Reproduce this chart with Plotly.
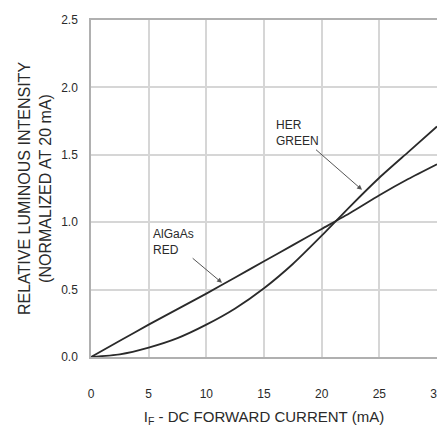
import plotly.graph_objects as go

current_ma = [0, 2.5, 5, 7.5, 10, 12.5, 15, 17.5, 20, 22.5, 25, 27.5, 30]
algaas_red = [0, 0.12, 0.24, 0.355, 0.47, 0.59, 0.71, 0.83, 0.95, 1.07, 1.20, 1.32, 1.43]
her_green = [0, 0.02, 0.07, 0.14, 0.24, 0.36, 0.51, 0.69, 0.90, 1.12, 1.33, 1.52, 1.71]

x_ticks = [0, 5, 10, 15, 20, 25, 30]
y_ticks = [0.0, 0.5, 1.0, 1.5, 2.0, 2.5]
y_tick_labels = ["0.0", "0.5", "1.0", "1.5", "2.0", "2.5"]

FONT = "Liberation Sans, Arial, Helvetica"
INK = "#2a2a2a"

fig = go.Figure()
fig.add_trace(go.Scatter(x=current_ma, y=algaas_red, mode="lines",
                         line=dict(color=INK, width=1.8, shape="spline", smoothing=0.6), name="AlGaAs RED"))
fig.add_trace(go.Scatter(x=current_ma, y=her_green, mode="lines",
                         line=dict(color=INK, width=1.8, shape="spline", smoothing=0.6), name="HER GREEN"))

# labels with arrows (text box centred at ax/ay, arrow head at x/y)
fig.add_annotation(x=23.5, y=1.24, ax=17.87, ay=1.66, xref="x", yref="y", axref="x", ayref="y",
                   text="HER<br>GREEN", align="left", showarrow=True, arrowhead=2, arrowsize=1,
                   arrowwidth=1, arrowcolor="#555", font=dict(family=FONT, size=12, color=INK))
fig.add_annotation(x=11.36, y=0.55, ax=7.11, ay=0.855, xref="x", yref="y", axref="x", ayref="y",
                   text="AlGaAs<br>RED", align="left", showarrow=True, arrowhead=2, arrowsize=1,
                   arrowwidth=1, arrowcolor="#555", font=dict(family=FONT, size=12, color=INK))

fig.update_layout(
    width=437, height=424,
    margin=dict(l=83, r=8, t=12, b=75),
    paper_bgcolor="white", plot_bgcolor="white",
    showlegend=False,
    font=dict(family=FONT, color=INK),
)
fig.update_xaxes(
    range=[0, 30], tickvals=x_ticks, ticks="", ticklabelstandoff=25, automargin=False,
    tickfont=dict(family=FONT, size=12, color=INK),
    showgrid=True, gridcolor="#d6d6d6", gridwidth=1.5,
    showline=True, linecolor="#b0b0b0", linewidth=1.5, mirror=True, zeroline=False,
    title=dict(text="I<sub>F</sub> - DC FORWARD CURRENT (mA)", font=dict(family=FONT, size=15, color=INK), standoff=11),
)
fig.update_yaxes(
    range=[0, 2.5], tickvals=y_ticks, ticktext=y_tick_labels, ticks="", ticklabelstandoff=9, automargin=False,
    tickfont=dict(family=FONT, size=12, color=INK),
    showgrid=True, gridcolor="#d6d6d6", gridwidth=1.5,
    showline=True, linecolor="#b0b0b0", linewidth=1.5, mirror=True, zeroline=False,
    title=dict(text="RELATIVE LUMINOUS INTENSITY<br>(NORMALIZED AT 20 mA)", font=dict(family=FONT, size=16, color=INK), standoff=6),
)

fig.write_html("out.html")
